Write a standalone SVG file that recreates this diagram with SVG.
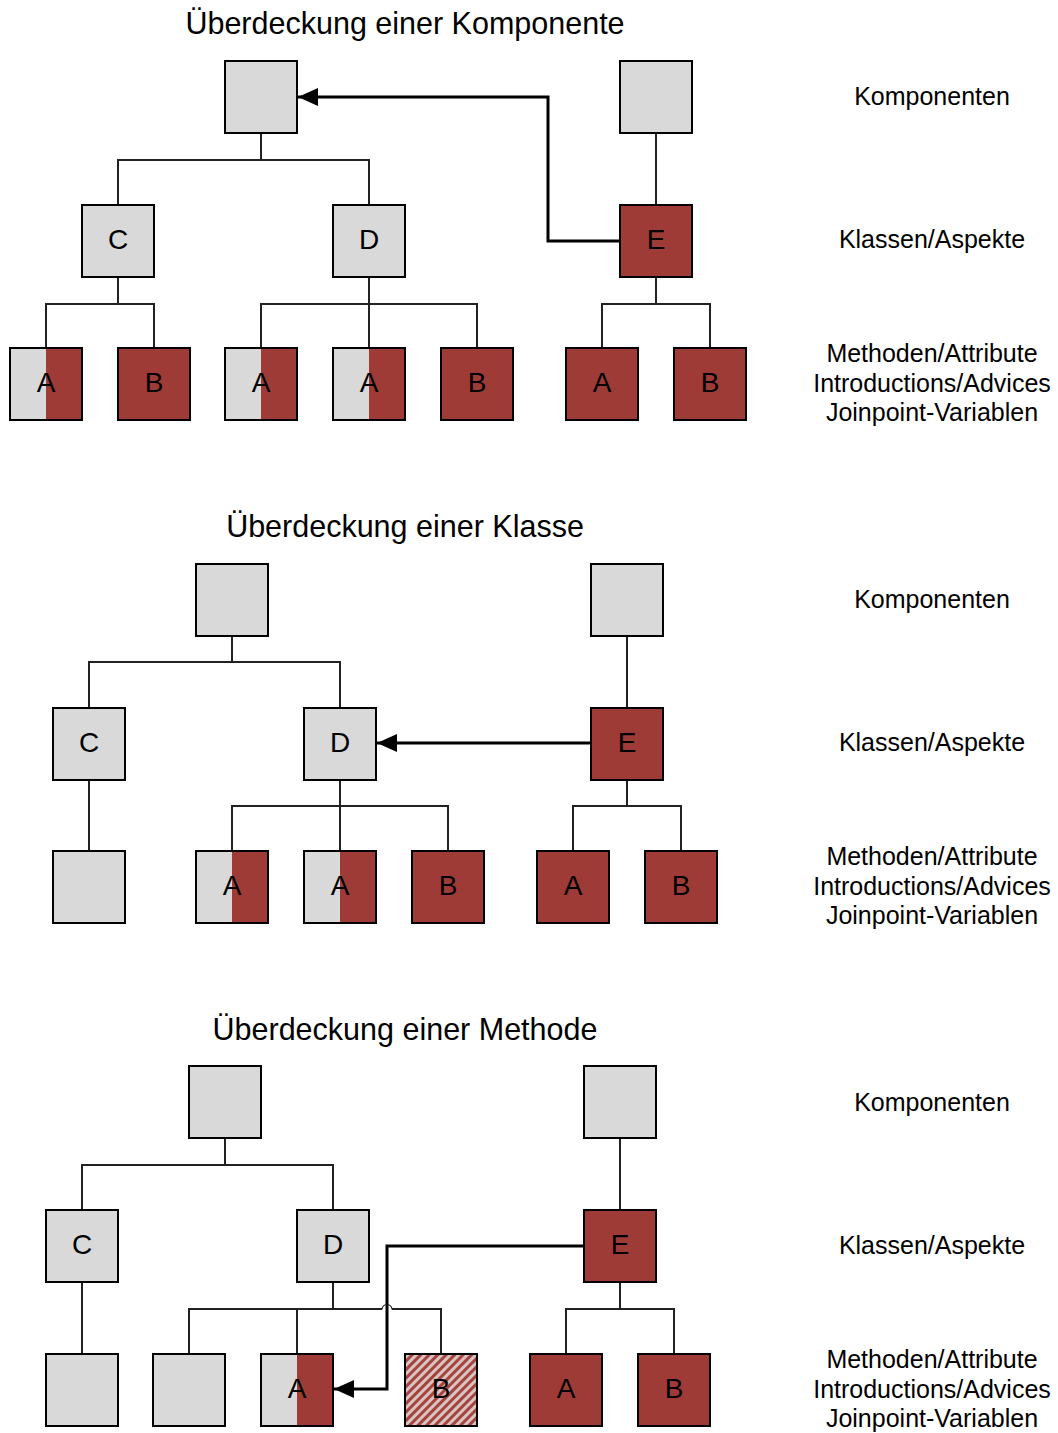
<svg xmlns="http://www.w3.org/2000/svg" width="1058" height="1433" viewBox="0 0 1058 1433">
  <style>
    .g { fill: #d9d9d9; }
    .r { fill: #9e3b36; }
    .h { fill: url(#hatch); }
    .box { fill: none; stroke: #000; stroke-width: 2; }
    .tree { fill: none; stroke: #222; stroke-width: 1.1; shape-rendering: crispEdges; }
    .hop { fill: none; stroke: #222; stroke-width: 1.1; }
    .arrow { fill: none; stroke: #000; stroke-width: 3; marker-end: url(#head); }
    .lbl { font-family: "Liberation Sans", Arial, sans-serif; font-size: 28px; fill: #000; text-anchor: middle; }
    .title { font-family: "Liberation Sans", Arial, sans-serif; font-size: 30.5px; fill: #000; text-anchor: middle; }
    .side { font-family: "Liberation Sans", Arial, sans-serif; font-size: 25px; fill: #000; text-anchor: middle; }
  </style>
  <defs>
    <marker id="head" markerUnits="userSpaceOnUse" markerWidth="22" markerHeight="18" refX="20" refY="9" orient="auto">
      <path d="M0,0 L20,9 L0,18 z" fill="#000"/>
    </marker>
    <pattern id="hatch" patternUnits="userSpaceOnUse" width="6" height="6" patternTransform="rotate(45)">
      <rect width="6" height="6" fill="#d9c4c2"/>
      <rect width="3" height="6" fill="#a5443e"/>
    </pattern>
  </defs>
  <rect width="1058" height="1433" fill="#fff"/>

  <!-- headings and level labels -->
  <g id="titles">
    <text class="title" x="405" y="34">Überdeckung einer Komponente</text>
    <text class="title" x="405" y="537">Überdeckung einer Klasse</text>
    <text class="title" x="405" y="1040">Überdeckung einer Methode</text>
  </g>
  <g id="levels">
    <text class="side" x="932" y="105">Komponenten</text>
    <text class="side" x="932" y="248">Klassen/Aspekte</text>
    <text class="side" x="932" y="362">Methoden/Attribute</text>
    <text class="side" x="932" y="392">Introductions/Advices</text>
    <text class="side" x="932" y="421">Joinpoint-Variablen</text>
    <text class="side" x="932" y="608">Komponenten</text>
    <text class="side" x="932" y="751">Klassen/Aspekte</text>
    <text class="side" x="932" y="865">Methoden/Attribute</text>
    <text class="side" x="932" y="895">Introductions/Advices</text>
    <text class="side" x="932" y="924">Joinpoint-Variablen</text>
    <text class="side" x="932" y="1111">Komponenten</text>
    <text class="side" x="932" y="1254">Klassen/Aspekte</text>
    <text class="side" x="932" y="1368">Methoden/Attribute</text>
    <text class="side" x="932" y="1398">Introductions/Advices</text>
    <text class="side" x="932" y="1427">Joinpoint-Variablen</text>
  </g>

  <!-- connectors -->
  <g id="connectors">
    <!-- section 1 tree -->
    <path class="tree" d="M261,133 V160 M118,205 V160 H369 V205"/>
    <path class="tree" d="M118,277 V304 M46,348 V304 H154 V348"/>
    <path class="tree" d="M369,277 V348 M261,348 V304 H477 V348"/>
    <path class="tree" d="M656,133 V205 M656,277 V304 M602,348 V304 H710 V348"/>
    <path class="arrow" d="M620,241 H548 V97 H298"/>
    <!-- section 2 tree -->
    <path class="tree" d="M232,636 V662 M89,708 V662 H340 V708"/>
    <path class="tree" d="M89,780 V851"/>
    <path class="tree" d="M340,780 V851 M232,851 V806 H448 V851"/>
    <path class="tree" d="M627,636 V708 M627,780 V806 M573,851 V806 H681 V851"/>
    <path class="arrow" d="M591,743 H377"/>
    <!-- section 3 tree -->
    <path class="tree" d="M225,1138 V1165 M82,1210 V1165 H333 V1210"/>
    <path class="tree" d="M82,1282 V1354"/>
    <path class="tree" d="M333,1282 V1309 M297,1309 V1354 M189,1354 V1309 H382 M392,1309 H441 V1354"/>
    <path class="hop" d="M382,1309.5 A5,5 0 0 1 392,1309.5"/>
    <path class="tree" d="M620,1138 V1210 M620,1282 V1309 M566,1354 V1309 H674 V1354"/>
    <path class="arrow" d="M584,1246 H387 V1389 H334"/>
  </g>

  <!-- section 1 nodes -->
  <g id="s1-comp-left"><rect class="g" x="225" y="61" width="72" height="72"/><rect class="box" x="225" y="61" width="72" height="72"/></g>
  <g id="s1-comp-right"><rect class="g" x="620" y="61" width="72" height="72"/><rect class="box" x="620" y="61" width="72" height="72"/></g>
  <g id="s1-C"><rect class="g" x="82" y="205" width="72" height="72"/><rect class="box" x="82" y="205" width="72" height="72"/><text class="lbl" x="118" y="249">C</text></g>
  <g id="s1-D"><rect class="g" x="333" y="205" width="72" height="72"/><rect class="box" x="333" y="205" width="72" height="72"/><text class="lbl" x="369" y="249">D</text></g>
  <g id="s1-E"><rect class="r" x="620" y="205" width="72" height="72"/><rect class="box" x="620" y="205" width="72" height="72"/><text class="lbl" x="656" y="249">E</text></g>
  <g id="s1-C-A"><rect class="g" x="10" y="348" width="72" height="72"/><rect class="r" x="46" y="348" width="36" height="72"/><rect class="box" x="10" y="348" width="72" height="72"/><text class="lbl" x="46" y="392">A</text></g>
  <g id="s1-C-B"><rect class="r" x="118" y="348" width="72" height="72"/><rect class="box" x="118" y="348" width="72" height="72"/><text class="lbl" x="154" y="392">B</text></g>
  <g id="s1-D-A1"><rect class="g" x="225" y="348" width="72" height="72"/><rect class="r" x="261" y="348" width="36" height="72"/><rect class="box" x="225" y="348" width="72" height="72"/><text class="lbl" x="261" y="392">A</text></g>
  <g id="s1-D-A2"><rect class="g" x="333" y="348" width="72" height="72"/><rect class="r" x="369" y="348" width="36" height="72"/><rect class="box" x="333" y="348" width="72" height="72"/><text class="lbl" x="369" y="392">A</text></g>
  <g id="s1-D-B"><rect class="r" x="441" y="348" width="72" height="72"/><rect class="box" x="441" y="348" width="72" height="72"/><text class="lbl" x="477" y="392">B</text></g>
  <g id="s1-E-A"><rect class="r" x="566" y="348" width="72" height="72"/><rect class="box" x="566" y="348" width="72" height="72"/><text class="lbl" x="602" y="392">A</text></g>
  <g id="s1-E-B"><rect class="r" x="674" y="348" width="72" height="72"/><rect class="box" x="674" y="348" width="72" height="72"/><text class="lbl" x="710" y="392">B</text></g>

  <!-- section 2 nodes -->
  <g id="s2-comp-left"><rect class="g" x="196" y="564" width="72" height="72"/><rect class="box" x="196" y="564" width="72" height="72"/></g>
  <g id="s2-comp-right"><rect class="g" x="591" y="564" width="72" height="72"/><rect class="box" x="591" y="564" width="72" height="72"/></g>
  <g id="s2-C"><rect class="g" x="53" y="708" width="72" height="72"/><rect class="box" x="53" y="708" width="72" height="72"/><text class="lbl" x="89" y="752">C</text></g>
  <g id="s2-D"><rect class="g" x="304" y="708" width="72" height="72"/><rect class="box" x="304" y="708" width="72" height="72"/><text class="lbl" x="340" y="752">D</text></g>
  <g id="s2-E"><rect class="r" x="591" y="708" width="72" height="72"/><rect class="box" x="591" y="708" width="72" height="72"/><text class="lbl" x="627" y="752">E</text></g>
  <g id="s2-C-leaf"><rect class="g" x="53" y="851" width="72" height="72"/><rect class="box" x="53" y="851" width="72" height="72"/></g>
  <g id="s2-D-A1"><rect class="g" x="196" y="851" width="72" height="72"/><rect class="r" x="232" y="851" width="36" height="72"/><rect class="box" x="196" y="851" width="72" height="72"/><text class="lbl" x="232" y="895">A</text></g>
  <g id="s2-D-A2"><rect class="g" x="304" y="851" width="72" height="72"/><rect class="r" x="340" y="851" width="36" height="72"/><rect class="box" x="304" y="851" width="72" height="72"/><text class="lbl" x="340" y="895">A</text></g>
  <g id="s2-D-B"><rect class="r" x="412" y="851" width="72" height="72"/><rect class="box" x="412" y="851" width="72" height="72"/><text class="lbl" x="448" y="895">B</text></g>
  <g id="s2-E-A"><rect class="r" x="537" y="851" width="72" height="72"/><rect class="box" x="537" y="851" width="72" height="72"/><text class="lbl" x="573" y="895">A</text></g>
  <g id="s2-E-B"><rect class="r" x="645" y="851" width="72" height="72"/><rect class="box" x="645" y="851" width="72" height="72"/><text class="lbl" x="681" y="895">B</text></g>

  <!-- section 3 nodes -->
  <g id="s3-comp-left"><rect class="g" x="189" y="1066" width="72" height="72"/><rect class="box" x="189" y="1066" width="72" height="72"/></g>
  <g id="s3-comp-right"><rect class="g" x="584" y="1066" width="72" height="72"/><rect class="box" x="584" y="1066" width="72" height="72"/></g>
  <g id="s3-C"><rect class="g" x="46" y="1210" width="72" height="72"/><rect class="box" x="46" y="1210" width="72" height="72"/><text class="lbl" x="82" y="1254">C</text></g>
  <g id="s3-D"><rect class="g" x="297" y="1210" width="72" height="72"/><rect class="box" x="297" y="1210" width="72" height="72"/><text class="lbl" x="333" y="1254">D</text></g>
  <g id="s3-E"><rect class="r" x="584" y="1210" width="72" height="72"/><rect class="box" x="584" y="1210" width="72" height="72"/><text class="lbl" x="620" y="1254">E</text></g>
  <g id="s3-C-leaf"><rect class="g" x="46" y="1354" width="72" height="72"/><rect class="box" x="46" y="1354" width="72" height="72"/></g>
  <g id="s3-D-leaf"><rect class="g" x="153" y="1354" width="72" height="72"/><rect class="box" x="153" y="1354" width="72" height="72"/></g>
  <g id="s3-D-A"><rect class="g" x="261" y="1354" width="72" height="72"/><rect class="r" x="297" y="1354" width="36" height="72"/><rect class="box" x="261" y="1354" width="72" height="72"/><text class="lbl" x="297" y="1398">A</text></g>
  <g id="s3-D-B"><rect class="h" x="405" y="1354" width="72" height="72"/><rect class="box" x="405" y="1354" width="72" height="72"/><text class="lbl" x="441" y="1398">B</text></g>
  <g id="s3-E-A"><rect class="r" x="530" y="1354" width="72" height="72"/><rect class="box" x="530" y="1354" width="72" height="72"/><text class="lbl" x="566" y="1398">A</text></g>
  <g id="s3-E-B"><rect class="r" x="638" y="1354" width="72" height="72"/><rect class="box" x="638" y="1354" width="72" height="72"/><text class="lbl" x="674" y="1398">B</text></g>
</svg>
